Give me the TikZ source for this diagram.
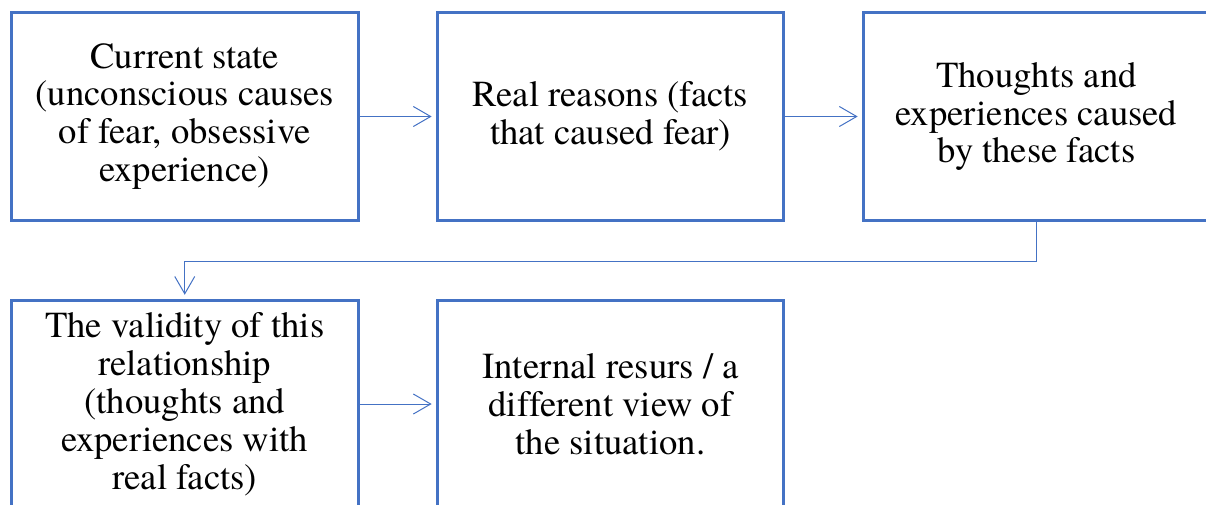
\documentclass[tikz,border=0pt]{standalone}
\usepackage{fontspec}
\setmainfont{texgyretermes-regular.otf}[Ligatures=NoCommon]
\usepackage{xcolor}
\usetikzlibrary{arrows.meta}
\definecolor{boxblue}{HTML}{4472C4}

\begin{document}
\begin{tikzpicture}[x=0.75pt,y=0.75pt,
  box/.style={draw=boxblue,line width=2.25pt,rectangle,minimum width=260pt,minimum height=155.6pt,
    align=center,inner sep=0pt,font=\fontsize{27.5}{28.4}\selectfont},
  conn/.style={draw=boxblue,line width=0.75pt,-{Straight Barb[length=13pt,width=15pt]},shorten >=3pt}]
\useasboundingbox (0,0) rectangle (1206,-504);
\node[box](state) at (184.75,-116.5){Current state\\(unconscious causes\\of fear, obsessive\\experience)};
\node[box](reasons) at (610.5,-116.5){Real reasons (facts\\that caused fear)};
\node[box](thoughts) at (1036.5,-116.5){Thoughts and\\experiences caused\\by these facts};
\node[box](validity) at (184.75,-404){The validity of this\\relationship\\(thoughts and\\experiences with\\real facts)};
\node[box](view) at (610.5,-404){Internal resurs / a\\different view of\\the situation.};
% connectors
\draw[conn](state)--(reasons);
\draw[conn](reasons)--(thoughts);
\draw[conn](thoughts.south)--++(0,-40)-|(validity.north);
\draw[conn](validity)--(view);
\end{tikzpicture}
\end{document}
